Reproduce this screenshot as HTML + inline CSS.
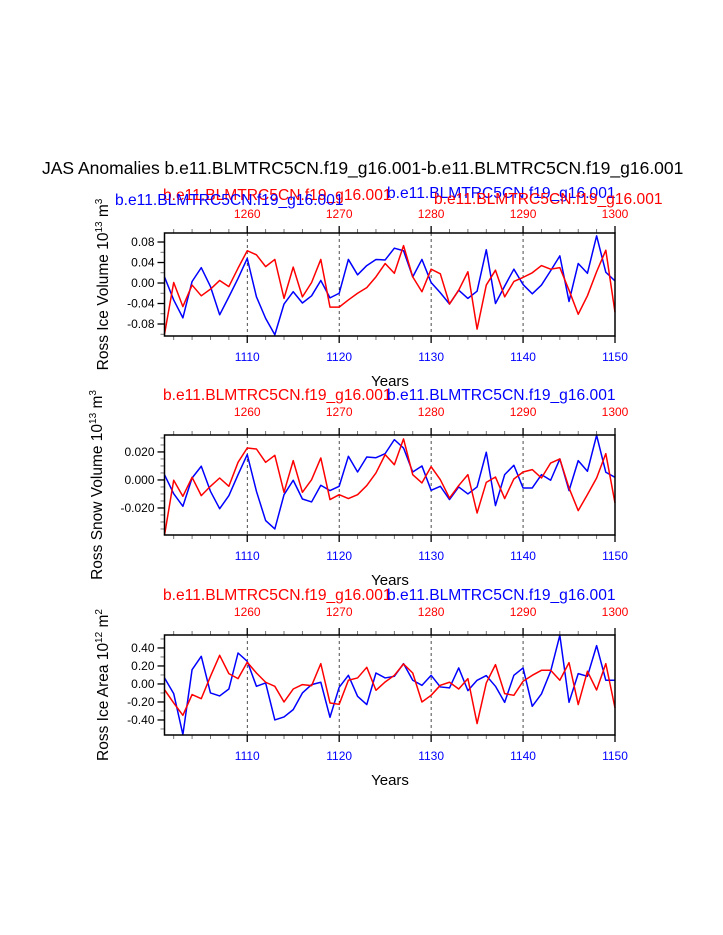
<!DOCTYPE html>
<html><head><meta charset="utf-8">
<style>
html,body{margin:0;padding:0;background:#fff;}
svg{display:block;font-family:"Liberation Sans",sans-serif;}
</style></head>
<body>
<svg id="chart" width="723" height="935" viewBox="0 0 723 935" xmlns="http://www.w3.org/2000/svg">
<text x="42" y="174" font-size="17.5" fill="#000">JAS Anomalies b.e11.BLMTRC5CN.f19_g16.001-b.e11.BLMTRC5CN.f19_g16.001</text>
</svg>
<script>
const years = [];
for (let y = 1101; y <= 1150; y++) years.push(y);
const bottomTicks = [1110, 1120, 1130, 1140, 1150];
const topTicks = [1260, 1270, 1280, 1290, 1300];

const iceVolBlue = [0.012,-0.033,-0.068,0.003,0.030,-0.007,-0.062,-0.027,0.009,0.048,-0.027,-0.069,-0.101,-0.041,-0.017,-0.039,-0.025,0.005,-0.029,-0.020,0.046,0.016,0.034,0.046,0.045,0.068,0.063,0.012,0.046,0.001,-0.019,-0.041,-0.014,-0.030,-0.016,0.065,-0.040,-0.006,0.027,-0.003,-0.021,-0.004,0.024,0.053,-0.036,0.038,0.019,0.092,0.021,0.004];
const iceVolRed = [-0.100,0.001,-0.046,-0.004,-0.025,-0.012,0.005,-0.007,0.029,0.063,0.055,0.032,0.046,-0.030,0.031,-0.027,0.001,0.046,-0.047,-0.047,-0.033,-0.020,-0.009,0.012,0.038,0.019,0.073,0.012,-0.017,0.027,0.018,-0.041,-0.014,0.022,-0.090,-0.004,0.025,-0.027,0.003,0.011,0.020,0.034,0.027,0.030,-0.014,-0.061,-0.025,0.022,0.064,-0.057];
const snowVolBlue = [0.0038,-0.0098,-0.0188,0.0014,0.0098,-0.0081,-0.0205,-0.0112,0.0038,0.0181,-0.0081,-0.0290,-0.0350,-0.0105,-0.0002,-0.0136,-0.0157,-0.0038,-0.0076,-0.0045,0.0169,0.0057,0.0164,0.0159,0.0188,0.0288,0.0228,0.0057,0.0100,-0.0074,-0.0045,-0.0140,-0.0050,-0.0100,-0.0050,0.0198,-0.0183,0.0038,0.0105,-0.0057,-0.0057,0.0038,-0.0002,0.0150,-0.0076,0.0138,0.0062,0.0319,0.0055,0.0019];
const snowVolRed = [-0.0395,-0.0002,-0.0117,0.0019,-0.0112,-0.0045,0.0014,-0.0045,0.0126,0.0228,0.0221,0.0126,0.0176,-0.0088,0.0138,-0.0088,0.0002,0.0157,-0.0140,-0.0105,-0.0133,-0.0105,-0.0040,0.0050,0.0181,0.0109,0.0293,0.0038,-0.0021,0.0095,0.0002,-0.0129,-0.0040,0.0038,-0.0236,-0.0017,0.0021,-0.0133,0.0007,0.0057,0.0074,0.0014,0.0121,0.0150,-0.0057,-0.0219,-0.0105,0.0014,0.0188,-0.0164];
const iceAreaBlue = [0.067,-0.107,-0.562,0.159,0.307,-0.100,-0.133,-0.056,0.344,0.252,-0.026,0.011,-0.400,-0.366,-0.285,-0.100,-0.007,0.019,-0.370,-0.037,0.096,-0.137,-0.229,0.122,0.067,0.085,0.226,0.041,-0.015,0.096,-0.033,-0.044,0.178,-0.074,0.041,0.093,-0.026,-0.204,0.096,0.178,-0.248,-0.111,0.141,0.540,-0.204,0.115,0.085,0.426,0.041,0.041];
const iceAreaRed = [-0.063,-0.211,-0.348,-0.118,-0.163,0.085,0.318,0.115,0.059,0.241,0.122,0.019,-0.026,-0.200,-0.056,-0.007,-0.019,0.226,-0.211,-0.226,0.041,0.067,0.185,-0.070,0.022,0.096,0.222,0.122,-0.200,-0.126,-0.015,0.019,-0.056,0.059,-0.440,0.011,0.215,-0.107,-0.126,0.030,0.096,0.152,0.152,0.041,0.237,-0.229,0.141,-0.067,0.226,-0.266];

const iceVolTicks = [-0.08,-0.04,0,0.04,0.08];
const iceVolTickLabels = ["-0.08","-0.04","0.00","0.04","0.08"];
const snowVolTicks = [-0.02,0,0.02];
const snowVolTickLabels = ["-0.020","0.000","0.020"];
const iceAreaTicks = [-0.4,-0.2,0,0.2,0.4];
const iceAreaTickLabels = ["-0.40","-0.20","0.00","0.20","0.40"];

const NS = "http://www.w3.org/2000/svg";
const svg = document.getElementById('chart');
function mk(tag, attrs, parent, text) {
  const e = document.createElementNS(NS, tag);
  for (const k in attrs) e.setAttribute(k, attrs[k]);
  if (text !== undefined) e.textContent = text;
  (parent || svg).appendChild(e);
  return e;
}
const X0 = 164.5, X1 = 615, YR0 = 1101, YR1 = 1150;
function xs(yr) { return X0 + (yr - YR0) / (YR1 - YR0) * (X1 - X0); }

const panels = [
  {name:'ice-volume', top:233, bot:336, ymin:-0.1034, ymax:0.0976, minor:0.02, ticks:iceVolTicks, labels:iceVolTickLabels, blue:iceVolBlue, red:iceVolRed,
   ylab:['Ross Ice Volume 10','13',' m','3'], ylx:108, redTitle:[163,200], blueTitle:[115,205], blueMid:[387,198], redRight:[434,204], topLab:218},
  {name:'snow-volume', top:435, bot:535, ymin:-0.0393, ymax:0.0321, minor:0.005, ticks:snowVolTicks, labels:snowVolTickLabels, blue:snowVolBlue, red:snowVolRed,
   ylab:['Ross Snow Volume 10','13',' m','3'], ylx:102, redTitle:[163,400], blueMid:[387,400], topLab:416},
  {name:'ice-area', top:635, bot:735, ymin:-0.567, ymax:0.544, minor:0.1, ticks:iceAreaTicks, labels:iceAreaTickLabels, blue:iceAreaBlue, red:iceAreaRed,
   ylab:['Ross Ice Area 10','12',' m','2'], ylx:108, redTitle:[163,600], blueMid:[387,600], topLab:616},
];
const runName = 'b.e11.BLMTRC5CN.f19_g16.001';

panels.forEach(p => {
  const g = mk('g', {});
  
  
  const ys = v => p.bot - (v - p.ymin) / (p.ymax - p.ymin) * (p.bot - p.top);

  bottomTicks.slice(0, 4).forEach(t => {
    const l = mk('line', {x1:xs(t), x2:xs(t), y1:p.top, y2:p.bot, stroke:'#000', 'stroke-width':0.7, 'stroke-dasharray':'3,3'}, g);
    
    
  });
  for (let yr = 1102; yr <= 1150; yr += 2) {
    const major = (yr % 10 === 0);
    const len = major ? 7 : 4;
    mk('line', {x1:xs(yr), x2:xs(yr), y1:p.bot, y2:p.bot + len, stroke:major?'#000':'#666', 'stroke-width':major?1.3:0.9}, g);
    mk('line', {x1:xs(yr), x2:xs(yr), y1:p.top, y2:p.top - len, stroke:major?'#000':'#666', 'stroke-width':major?1.3:0.9}, g);
  }
  const n0 = Math.ceil(p.ymin / p.minor - 1e-6), n1 = Math.floor(p.ymax / p.minor + 1e-6);
  for (let n = n0; n <= n1; n++) {
    const v = n * p.minor;
    mk('line', {x1:X0 - 4, x2:X0, y1:ys(v), y2:ys(v), stroke:'#666', 'stroke-width':0.9}, g);
  }
  p.ticks.forEach((t, i) => {
    mk('line', {x1:X0 - 7, x2:X0, y1:ys(t), y2:ys(t), stroke:'#000', 'stroke-width':1.3}, g);
    const tl = mk('text', {x:X0 - 10, y:ys(t) + 4, 'font-size':12, 'text-anchor':'end', fill:'#000'}, g, p.labels[i]);
    
    
  });
  bottomTicks.forEach(t => {
    const tl = mk('text', {x:xs(t), y:p.bot + 25, 'font-size':12, 'text-anchor':'middle', fill:'#0000ff'}, g, String(t));
    
    
  });
  topTicks.forEach((t, i) => {
    const tl = mk('text', {x:xs(bottomTicks[i]), y:p.topLab, 'font-size':12, 'text-anchor':'middle', fill:'#ff0000'}, g, String(t));
    
    
  });
  [['blue', p.blue, '#0000ff'], ['red', p.red, '#ff0000']].forEach(s => {
    const pts = s[1].map((v, i) => xs(years[i]).toFixed(2) + ',' + ys(v).toFixed(2)).join(' ');
    const pl = mk('polyline', {points:pts, fill:'none', stroke:s[2], 'stroke-width':1.5, 'stroke-linejoin':'round'}, g);
    
    
  });
  const bx = mk('rect', {x:X0, y:p.top, width:X1 - X0, height:p.bot - p.top, fill:'none', stroke:'#000', 'stroke-width':1.5}, g);
  
  
  const rt = mk('text', {x:p.redTitle[0], y:p.redTitle[1], 'font-size':15.6, fill:'#ff0000'}, g, runName);
  
  
  if (p.blueTitle) {
    const bt = mk('text', {x:p.blueTitle[0], y:p.blueTitle[1], 'font-size':15.6, fill:'#0000ff'}, g, runName);
    
    
  }
  const bm = mk('text', {x:p.blueMid[0], y:p.blueMid[1], 'font-size':15.6, fill:'#0000ff'}, g, runName);
  
  
  if (p.redRight) {
    const rr = mk('text', {x:p.redRight[0], y:p.redRight[1], 'font-size':15.6, fill:'#ff0000'}, g, runName);
    
    
  }
  const xt = mk('text', {x:390, y:p.bot + 50, 'font-size':15, 'text-anchor':'middle', fill:'#000'}, g, 'Years');
  
  
  const cy = (p.top + p.bot) / 2;
  const yt = mk('text', {x:0, y:0, 'font-size':15.5, 'text-anchor':'middle', fill:'#000', transform:'translate(' + p.ylx + ',' + cy + ') rotate(-90)'}, g);
  
  
  mk('tspan', {}, yt, p.ylab[0]);
  mk('tspan', {dy:-6, 'font-size':10}, yt, p.ylab[1]);
  mk('tspan', {dy:6}, yt, p.ylab[2]);
  mk('tspan', {dy:-6, 'font-size':10}, yt, p.ylab[3]);
});
</script>
</body></html>
